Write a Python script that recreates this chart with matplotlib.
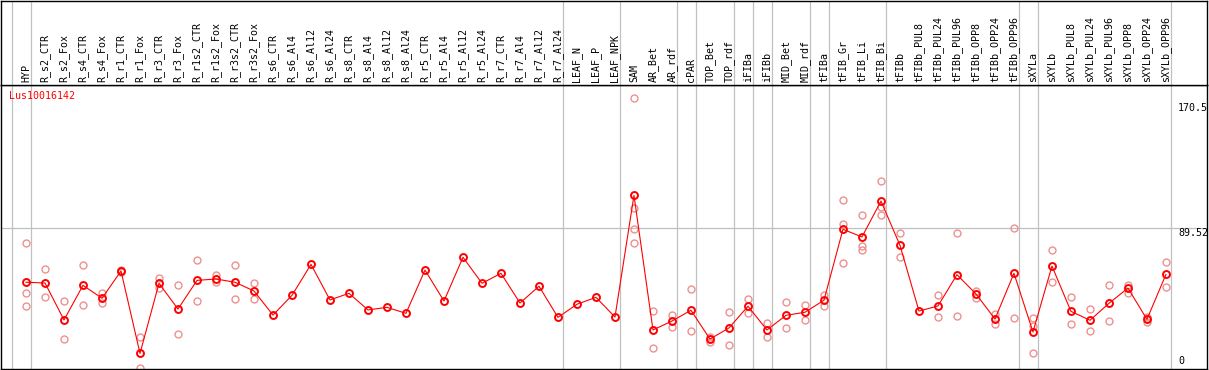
import matplotlib
matplotlib.use("Agg")
import matplotlib.pyplot as plt
import matplotlib.transforms as mtransforms

# sample names (one column each)
samples = [
    "HYP", "R_s2_CTR", "R_s2_Fox", "R_s4_CTR", "R_s4_Fox", "R_r1_CTR", "R_r1_Fox",
    "R_r3_CTR", "R_r3_Fox", "R_r1s2_CTR", "R_r1s2_Fox", "R_r3s2_CTR", "R_r3s2_Fox",
    "R_s6_CTR", "R_s6_Al4", "R_s6_Al12", "R_s6_Al24", "R_s8_CTR", "R_s8_Al4",
    "R_s8_Al12", "R_s8_Al24", "R_r5_CTR", "R_r5_Al4", "R_r5_Al12", "R_r5_Al24",
    "R_r7_CTR", "R_r7_Al4", "R_r7_Al12", "R_r7_Al24", "LEAF_N", "LEAF_P", "LEAF_NPK",
    "SAM", "AR_Bet", "AR_rdf", "cPAR", "TOP_Bet", "TOP_rdf", "iFIBa", "iFIBb",
    "MID_Bet", "MID_rdf", "tFIBa", "tFIB_Gr", "tFIB_Li", "tFIB_Bi", "tFIBb",
    "tFIBb_PUL8", "tFIBb_PUL24", "tFIBb_PUL96", "tFIBb_OPP8", "tFIBb_OPP24",
    "tFIBb_OPP96", "sXYLa", "sXYLb", "sXYLb_PUL8", "sXYLb_PUL24", "sXYLb_PUL96",
    "sXYLb_OPP8", "sXYLb_OPP24", "sXYLb_OPP96",
]

# mean expression per sample
means = [
    54.4, 53.9, 29.9, 52.4, 44.0, 61.7, 8.2, 53.7, 37.0, 55.6, 56.5, 54.4, 48.7,
    33.1, 45.9, 66.0, 42.9, 47.2, 36.4, 38.1, 34.2, 62.3, 42.2, 70.6, 53.7,
    60.2, 40.9, 51.8, 31.6, 40.1, 44.6, 31.8,
    110.8, 23.4, 29.2, 36.2, 17.5, 24.7, 38.8, 23.4, 32.9, 34.9, 42.7,
    88.8, 83.8, 107.1, 78.4, 35.7, 39.0, 59.3, 46.8, 30.5, 60.2,
    22.1, 64.9, 35.5, 29.7, 40.7, 50.6, 30.3, 59.5,
]

# individual replicates per sample
replicates = [
    [79.7, 47.2, 38.8], [62.8, 44.6], [42.0, 17.5], [65.6, 39.4], [47.2, 41.1],
    [62.3, 61.0], [18.6, -1.5], [56.9, 50.8], [52.4, 20.6], [68.6, 42.0],
    [59.1, 54.4], [65.4, 43.3], [53.7, 43.3],
    [], [], [], [], [], [], [], [], [], [], [], [], [], [], [], [], [], [], [],
    [173.8, 102.4, 88.8, 79.7], [35.7, 11.7], [33.1, 25.5], [49.8, 22.5],
    [19.0, 15.8], [35.1, 13.4], [43.5, 34.2], [27.9, 18.6], [41.4, 24.5],
    [39.4, 29.7], [46.1, 39.2],
    [107.6, 92.2, 66.9], [98.1, 77.9, 75.3], [119.9, 103.4, 98.1], [86.2, 71.0],
    [], [45.9, 31.6], [86.6, 32.3], [48.9, 44.4], [33.8, 27.5], [89.4, 31.0],
    [31.4, 26.0, 8.4], [75.1, 54.4], [44.8, 27.3], [36.8, 22.5], [52.6, 29.0],
    [52.8, 47.6], [28.8, 31.8], [67.5, 51.3],
]

group_breaks = [-1, 0, 28, 31, 34, 35, 37, 38, 39, 41, 42, 45, 52, 53, 60]
y_marks = [170.5, 89.52, 0]
gene = "Lus10016142"

W, H = 1209, 370
fig = plt.figure(figsize=(W / 100, H / 100), dpi=100)
mono = "DejaVu Sans Mono"
grey = "#c0c0c0"

x0, x1 = -1.316, 62.16
ax = fig.add_axes([1 / W, 1 / H, 1206 / W, 284 / H])
head = fig.add_axes([1 / W, 285 / H, 1206 / W, 84 / H])

for a in (ax, head):
    a.set_xlim(x0, x1)
    a.set_xticks([])
    a.set_yticks([])
    for s in a.spines.values():
        s.set_color("black")
        s.set_linewidth(1.0)
    for b in group_breaks:
        a.axvline(b + 0.25, color=grey, lw=0.9, zorder=0)

head.set_ylim(0, 1)
for i, name in enumerate(samples):
    head.text(i, 0.03, name, rotation=90, ha="center", va="bottom",
              family=mono, fontsize=7.2)

ax.set_ylim(-1.95, 182.5)
ax.axhline(89.52, color=grey, lw=0.9, zorder=0)

xs = list(range(len(samples)))
for i, reps in enumerate(replicates):
    if reps:
        ax.plot([i] * len(reps), reps, "o", ms=5, mfc="none", mec="#ee9090",
                mew=1.0, zorder=2, clip_on=True)
ax.plot(xs, means, "-", color="red", lw=0.8, zorder=3)
ax.plot(xs, means, "o", ms=5, mfc="none", mec="red", mew=1.4, zorder=4)

tr = mtransforms.blended_transform_factory(ax.transAxes, ax.transData)
for v in y_marks:
    ax.text(1177 / 1206, v, f"{v:g}", transform=tr, family=mono, fontsize=7.2,
            ha="left", va="bottom" if v == 0 else "top")

ax.text(8 / 1206, 1 - 6 / 284, gene, transform=ax.transAxes, color="red",
        family=mono, fontsize=7.2, ha="left", va="top")

fig.savefig("out.png", dpi=100)
